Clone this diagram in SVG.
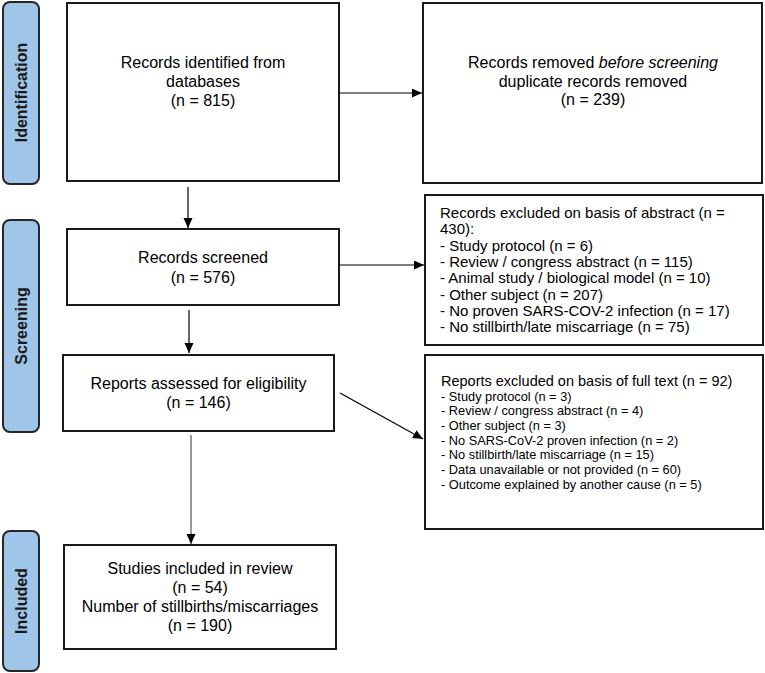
<svg xmlns="http://www.w3.org/2000/svg" width="765" height="673" viewBox="0 0 765 673">
<defs>
<marker id="ah" markerUnits="userSpaceOnUse" markerWidth="11" markerHeight="10" refX="10" refY="4.5" orient="auto">
<path d="M0,0 L10,4.5 L0,9 z" fill="#000"/>
</marker>
<style>
.box{fill:#fff;stroke:#1a1a1a;stroke-width:2}
.lab{fill:#9fc5e8;stroke:#262626;stroke-width:2}
.lt{font-family:"Liberation Sans",Arial,sans-serif;font-weight:bold;font-size:16px;fill:#1a1a1a;text-anchor:middle}
.t{font-family:"Liberation Sans",Arial,sans-serif;font-size:16px;fill:#000;text-anchor:middle}
.t2{font-family:"Liberation Sans",Arial,sans-serif;font-size:15px;fill:#000}
.t4{font-family:"Liberation Sans",Arial,sans-serif;font-size:14.5px;fill:#000}
.t3{font-family:"Liberation Sans",Arial,sans-serif;font-size:12.8px;fill:#000}
.c{stroke:#000;stroke-width:1.2;fill:none;marker-end:url(#ah)}
</style>
</defs>
<rect width="765" height="673" fill="#fff"/>
<g id="label-identification">
<rect class="lab" x="3" y="2" width="36" height="182" rx="7"/>
<text class="lt" transform="translate(27,92.5) rotate(-90)">Identification</text>
</g>
<g id="label-screening">
<rect class="lab" x="3" y="220" width="36" height="212" rx="7"/>
<text class="lt" transform="translate(27,326) rotate(-90)">Screening</text>
</g>
<g id="label-included">
<rect class="lab" x="3" y="531" width="36" height="140" rx="7"/>
<text class="lt" transform="translate(27,601) rotate(-90)">Included</text>
</g>
<g id="connectors">
<line class="c" x1="188" y1="187" x2="188" y2="228"/>
<line class="c" x1="339" y1="93" x2="422" y2="93"/>
<line class="c" x1="339" y1="265" x2="424" y2="265"/>
<line class="c" x1="189" y1="310" x2="189" y2="353"/>
<line class="c" x1="340" y1="393" x2="423" y2="439"/>
<line class="c" x1="191" y1="435" x2="191" y2="544" style="stroke:#555"/>
</g>
<g id="n-identified">
<rect class="box" x="67" y="3" width="272" height="178"/>
<text class="t" x="203" y="68">Records identified from</text>
<text class="t" x="203" y="87">databases</text>
<text class="t" x="203" y="106">(n = 815)</text>
</g>
<g id="n-removed">
<rect class="box" x="423" y="3" width="339" height="180"/>
<text class="t" x="593" y="68">Records removed <tspan font-style="italic">before screening</tspan></text>
<text class="t" x="593" y="86.5">duplicate records removed</text>
<text class="t" x="593" y="105">(n = 239)</text>
</g>
<g id="n-screened">
<rect class="box" x="67" y="229" width="272" height="76"/>
<text class="t" x="203" y="263">Records screened</text>
<text class="t" x="203" y="283">(n = 576)</text>
</g>
<g id="n-excluded-abstract">
<rect class="box" x="425" y="195" width="338" height="150"/>
<text class="t2" x="440" y="218">Records excluded on basis of abstract (n =</text>
<text class="t2" x="440" y="234.3">430):</text>
<text class="t2" x="440" y="250.6">- Study protocol (n = 6)</text>
<text class="t2" x="440" y="266.9">- Review / congress abstract (n = 115)</text>
<text class="t2" x="440" y="283.2">- Animal study / biological model (n = 10)</text>
<text class="t2" x="440" y="299.5">- Other subject (n = 207)</text>
<text class="t2" x="440" y="315.8">- No proven SARS-COV-2 infection (n = 17)</text>
<text class="t2" x="440" y="332.1">- No stillbirth/late miscarriage (n = 75)</text>
</g>
<g id="n-assessed">
<rect class="box" x="63" y="355" width="271" height="76"/>
<text class="t" x="198.5" y="389">Reports assessed for eligibility</text>
<text class="t" x="198.5" y="408">(n = 146)</text>
</g>
<g id="n-excluded-fulltext">
<rect class="box" x="425" y="355" width="338" height="174"/>
<text class="t4" x="441" y="386">Reports excluded on basis of full text (n = 92)</text>
<text class="t3" x="441" y="400.5">- Study protocol (n = 3)</text>
<text class="t3" x="441" y="415.2">- Review / congress abstract (n = 4)</text>
<text class="t3" x="441" y="429.9">- Other subject (n = 3)</text>
<text class="t3" x="441" y="444.6">- No SARS-CoV-2 proven infection (n = 2)</text>
<text class="t3" x="441" y="459.3">- No stillbirth/late miscarriage (n = 15)</text>
<text class="t3" x="441" y="474">- Data unavailable or not provided (n = 60)</text>
<text class="t3" x="441" y="488.7">- Outcome explained by another cause (n = 5)</text>
</g>
<g id="n-included">
<rect class="box" x="64" y="545" width="272" height="104"/>
<text class="t" x="200" y="574">Studies included in review</text>
<text class="t" x="200" y="593">(n = 54)</text>
<text class="t" x="200" y="612">Number of stillbirths/miscarriages</text>
<text class="t" x="200" y="631">(n = 190)</text>
</g>
</svg>
